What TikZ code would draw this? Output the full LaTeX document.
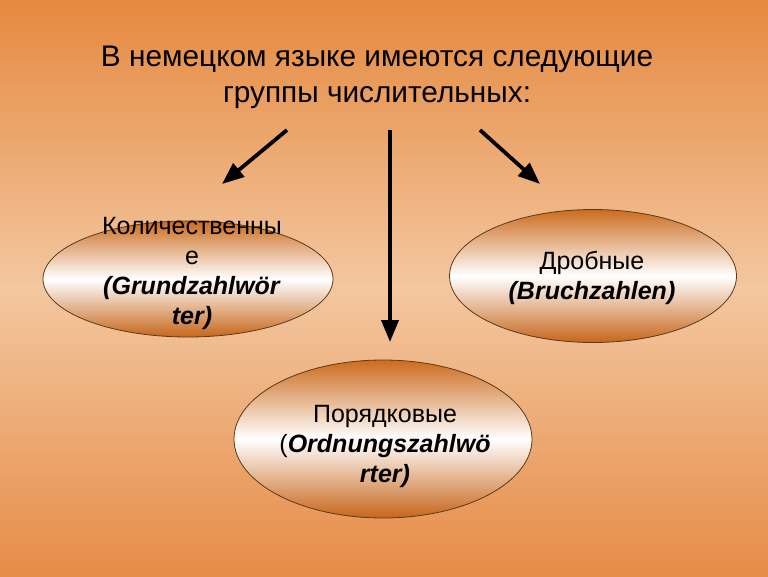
\documentclass[tikz,border=0pt]{standalone}
\usepackage{fontspec}
\setmainfont{Liberation Sans}
\usetikzlibrary{shapes.geometric,arrows.meta}
\definecolor{bgtop}{HTML}{E5893F}
\definecolor{bgmid}{HTML}{F3C7A0}
\definecolor{bgbot}{HTML}{E68C47}
\definecolor{eltop}{HTML}{CC6C1E}
\definecolor{elbot}{HTML}{C6661B}
\definecolor{elline}{HTML}{5A3A1A}
\begin{document}
\begin{tikzpicture}[x=1pt,y=-1pt,
  group/.style={ellipse, draw=elline, line width=0.8pt, top color=eltop, bottom color=elbot, middle color=white, inner sep=0pt},
  txt/.style={align=center, font=\fontsize{25}{30}\selectfont, text=black, inner sep=0pt},
  arr/.style={line width=3.8pt, -{Triangle[length=22pt,width=17pt]}}
]
\useasboundingbox (0,0) rectangle (768,576);
\shade[top color=bgtop, bottom color=bgbot, middle color=bgmid] (0,0) rectangle (768,576);

\node[align=center, font=\fontsize{29.8}{36}\selectfont, inner sep=0pt] (title) at (377,77) {В немецком языке имеются следующие\\группы числительных:};

\node[group, minimum width=290pt, minimum height=116pt] (e1) at (188,279) {};
\node[txt] (t1) at (192,273) {Количественны\\е\\\textbf{\textit{(Grundzahlwör}}\\\textbf{\textit{ter)}}};

\node[group, minimum width=287pt, minimum height=133pt] (e2) at (593,276) {};
\node[txt] (t2) at (592,278) {Дробные\\\textbf{\textit{(Bruchzahlen)}}};

\node[group, minimum width=298pt, minimum height=158pt] (e3) at (383,439) {};
\node[txt] (t3) at (385,446) {Порядковые\\(\textbf{\textit{Ordnungszahlwö}}\\\textbf{\textit{rter)}}};

\coordinate (s1) at (287,130);
\coordinate (s2) at (390,130);
\coordinate (s3) at (480,130);
\coordinate (a1) at (222,184);
\coordinate (a2) at (390,342);
\coordinate (a3) at (540,184);
\draw[arr] (s1) -- (a1);
\draw[arr] (s2) -- (a2);
\draw[arr] (s3) -- (a3);
\end{tikzpicture}
\end{document}
